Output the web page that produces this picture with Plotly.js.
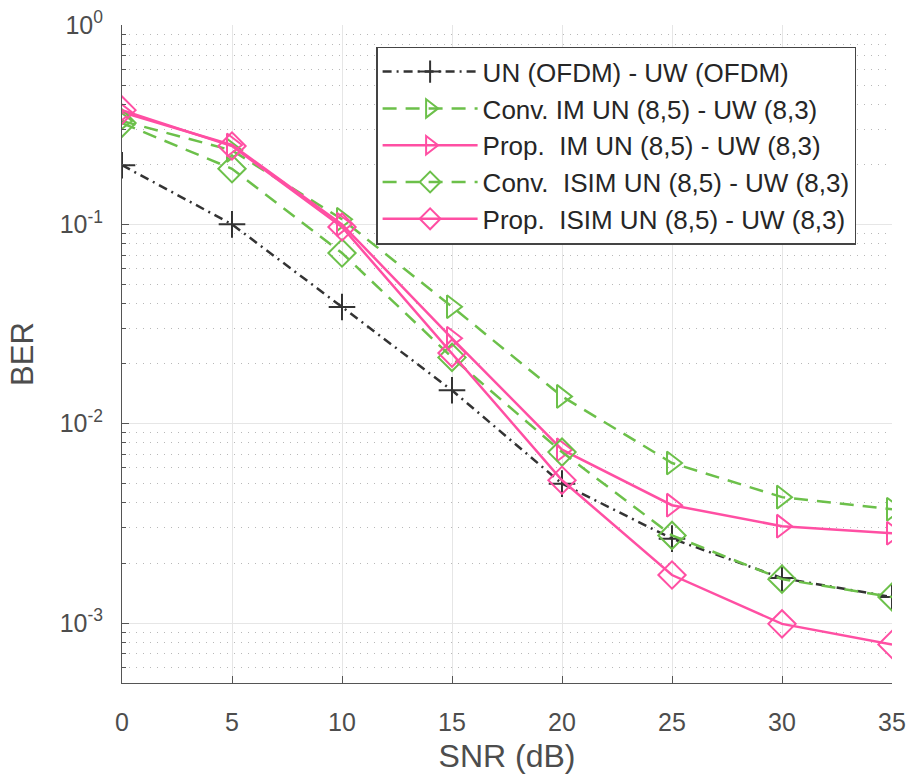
<!DOCTYPE html>
<html>
<head>
<meta charset="utf-8">
<script src="https://cdn.plot.ly/plotly-3.0.1.min.js"></script>
<style>html,body{margin:0;padding:0;background:#fff;}#chart{width:911px;height:778px;}</style>
</head>
<body>
<div id="chart"></div>
<script>
var snr = [0, 5, 10, 15, 20, 25, 30, 35];
var berOFDM      = [0.198, 0.100, 0.0385, 0.0147, 0.0050, 0.00265, 0.00168, 0.00135];
var berConvIM    = [0.330, 0.235, 0.106, 0.0386, 0.0137, 0.00635, 0.00428, 0.00372];
var berPropIM    = [0.365, 0.250, 0.100, 0.0268, 0.0074, 0.00390, 0.00306, 0.00282];
var berConvISIM  = [0.322, 0.190, 0.0718, 0.0215, 0.0072, 0.00275, 0.00166, 0.00135];
var berPropISIM  = [0.374, 0.247, 0.097, 0.0226, 0.0052, 0.00174, 0.00099, 0.00078];
var names = ["UN (OFDM) - UW (OFDM)", "Conv. IM UN (8,5) - UW (8,3)", "Prop.  IM UN (8,5) - UW (8,3)",
             "Conv.  ISIM UN (8,5) - UW (8,3)", "Prop.  ISIM UN (8,5) - UW (8,3)"];
var yTickVals = [1, 0.1, 0.01, 0.001];
var yTickText = ["10<sup>0</sup>", "10<sup>-1</sup>", "10<sup>-2</sup>", "10<sup>-3</sup>"];

var black = "#333333", green = "#6CC04A", pink = "#FF4FA3";
function tr(y, name, color, dash, symbol, size, grp) {
  return {
    x: snr, y: y, name: name, type: "scatter", mode: "lines+markers",
    legendgroup: grp,
    line: {color: color, width: 2.5, dash: dash},
    marker: {symbol: symbol, size: size, color: color, line: {color: color, width: 2}}
  };
}
var data = [
  tr(berOFDM, names[0], black, "9px,5px,2px,5px", "cross-thin-open", 19, "a"),
  tr(berConvIM, names[1], green, "14px,9px", "triangle-right-open", 20, "b"),
  tr(berPropIM, names[2], pink, "solid", "triangle-right-open", 20, "c"),
  tr(berConvISIM, names[3], green, "14px,9px", "diamond-open", 21, "d"),
  tr(berPropISIM, names[4], pink, "solid", "diamond-open", 21, "e")
];

var font = "Liberation Sans, Arial, Helvetica, sans-serif";
var layout = {
  width: 911, height: 778,
  margin: {l: 122, r: 19, t: 25, b: 95},
  paper_bgcolor: "#fff", plot_bgcolor: "#fff",
  font: {family: font, color: "#4d4d4d", size: 25},
  showlegend: true,
  legend: {
    x: 0.33, y: 0.967, xanchor: "left", yanchor: "top",
    bgcolor: "#fff", bordercolor: "#444", borderwidth: 1.5,
    font: {family: font, size: 26, color: "#262626"},
    itemwidth: 95, traceorder: "grouped", tracegroupgap: 0
  },
  xaxis: {
    range: [0, 35], tickvals: snr, ticks: "inside", ticklen: 7, tickcolor: "#555",
    showline: true, linecolor: "#555", linewidth: 1, zeroline: false,
    showgrid: true, gridcolor: "#e6e6e6", gridwidth: 1,
    tickfont: {size: 25, color: "#4d4d4d"}, ticklabelstandoff: 17,
    title: {text: "SNR (dB)", font: {size: 32, color: "#4d4d4d"}, standoff: 9}
  },
  yaxis: {
    type: "log", range: [-3.301, 0], tickvals: yTickVals, ticktext: yTickText,
    ticks: "inside", ticklen: 7, tickcolor: "#555",
    showline: true, linecolor: "#555", linewidth: 1, zeroline: false,
    showgrid: true, gridcolor: "#e6e6e6", gridwidth: 1,
    minor: {dtick: "D1", showgrid: true, gridcolor: "#b8b8b8", griddash: "1px,6px", gridwidth: 1,
            ticks: "inside", ticklen: 4, tickcolor: "#555"},
    tickfont: {size: 25, color: "#4d4d4d"}, ticklabelstandoff: 13,
    title: {text: "BER", font: {size: 31, color: "#4d4d4d"}, standoff: 16}
  }
};
Plotly.newPlot("chart", data, layout, {displayModeBar: false, staticPlot: true});
</script>
</body>
</html>
